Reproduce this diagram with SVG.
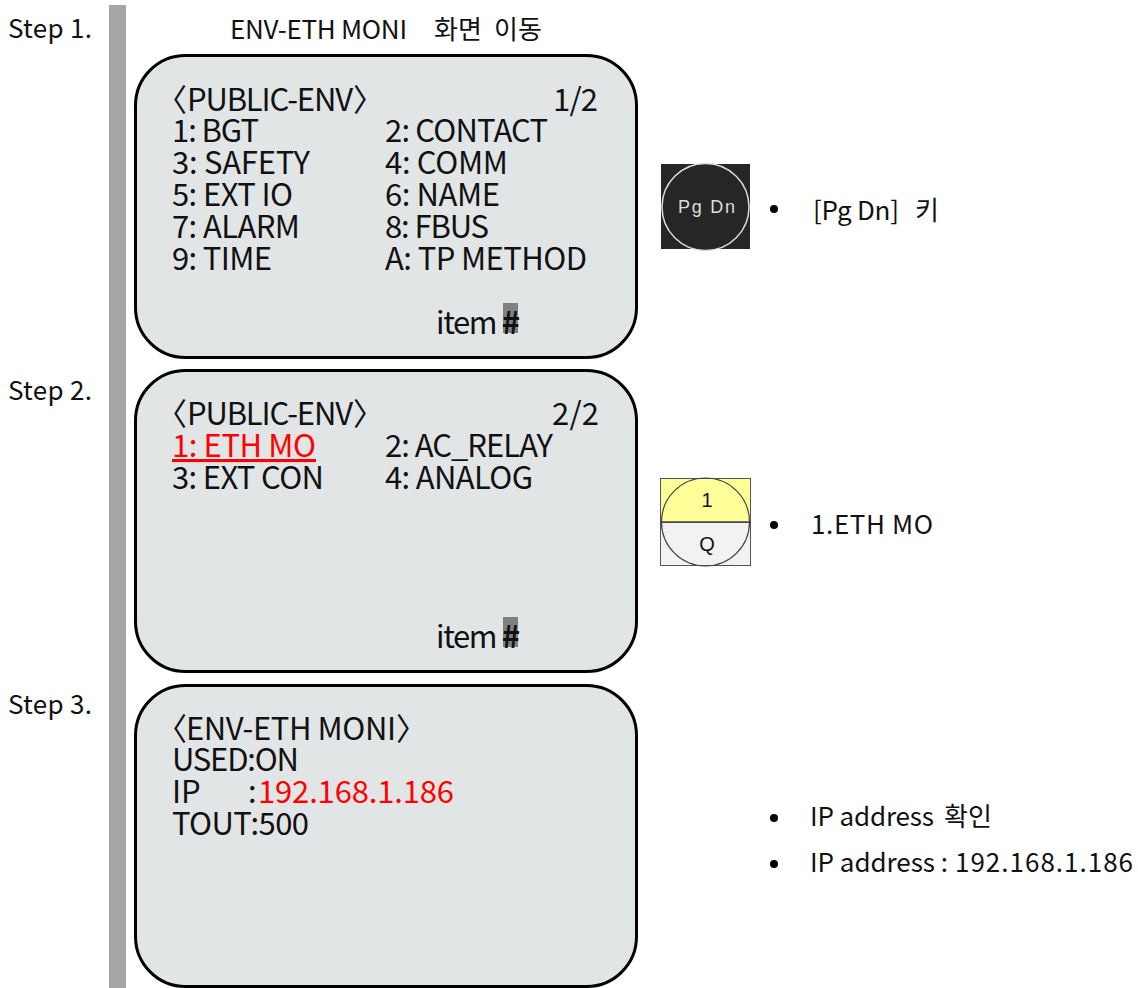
<svg xmlns="http://www.w3.org/2000/svg" width="1138" height="988" viewBox="0 0 1138 988">
<style>
text{font-family:"Noto Sans CJK KR","Noto Sans",sans-serif;fill:#111}
.p{fill:#e2e5e6;stroke:#000;stroke-width:3}
.s{font-size:26px}
.l{font-size:31px}
.n{font-size:26px}
.r{fill:#f00}
.k{font-family:"Liberation Sans",sans-serif}
</style>
<rect width="1138" height="988" fill="#fff"/>
<rect id="sidebar" x="109" y="5" width="17" height="983" fill="#a6a6a6"/>
<g id="steps">
<text class="s" x="8" y="38" textLength="84">Step 1.</text>
<text class="s" x="8" y="400" textLength="84">Step 2.</text>
<text class="s" x="8" y="714" textLength="84">Step 3.</text>
<text class="s" y="39"><tspan x="230" textLength="177">ENV-ETH MONI</tspan><tspan x="434">화면</tspan><tspan x="494">이동</tspan></text>
</g>
<g id="screen1">
<rect class="p" x="135.500" y="55.500" width="501" height="302" rx="50"/>
<text class="l" y="111"><tspan x="156">〈</tspan><tspan x="187" textLength="166">PUBLIC-ENV</tspan><tspan x="353">〉</tspan></text>
<text class="l" x="553" y="111" textLength="45">1/2</text>
<text class="l" x="172" y="142" textLength="87">1: BGT</text><text class="l" x="385" y="142" textLength="163">2: CONTACT</text>
<text class="l" x="172" y="174" textLength="138">3: SAFETY</text><text class="l" x="385" y="174" textLength="123">4: COMM</text>
<text class="l" x="172" y="206" textLength="121">5: EXT IO</text><text class="l" x="385" y="206" textLength="115">6: NAME</text>
<text class="l" x="172" y="238" textLength="128">7: ALARM</text><text class="l" x="385" y="238" textLength="104">8: FBUS</text>
<text class="l" x="172" y="270" textLength="100">9: TIME</text><text class="l" x="385" y="270" textLength="202">A: TP METHOD</text>
<rect x="503" y="303" width="15" height="30" fill="#808080"/>
<text class="l" x="436" y="334" textLength="84">item <tspan font-weight="700">#</tspan></text>
</g>
<g id="screen2">
<rect class="p" x="135.500" y="370.500" width="501" height="301" rx="50"/>
<text class="l" y="425"><tspan x="156">〈</tspan><tspan x="187" textLength="166">PUBLIC-ENV</tspan><tspan x="353">〉</tspan></text>
<text class="l" x="552" y="425" textLength="47">2/2</text>
<text class="l r" x="172" y="457" textLength="144" text-decoration="underline">1: ETH MO</text><text class="l" x="385" y="457" textLength="168">2: AC_RELAY</text>
<text class="l" x="172" y="489" textLength="152">3: EXT CON</text><text class="l" x="385" y="489" textLength="148">4: ANALOG</text>
<rect x="503" y="617" width="15" height="30" fill="#808080"/>
<text class="l" x="436" y="648" textLength="84">item <tspan font-weight="700">#</tspan></text>
</g>
<g id="screen3">
<rect class="p" x="135.500" y="685.500" width="501" height="301" rx="50"/>
<text class="l" y="740"><tspan x="156">〈</tspan><tspan x="186" textLength="210">ENV-ETH MONI</tspan><tspan x="396">〉</tspan></text>
<text class="l" x="172" y="771" textLength="127">USED:ON</text>
<text class="l" y="803"><tspan x="172">IP</tspan><tspan x="248">:</tspan><tspan class="r" x="258" textLength="196">192.168.1.186</tspan></text>
<text class="l" x="172" y="835" textLength="137">TOUT:500</text>
</g>
<g id="key-pgdn">
<rect x="661" y="164" width="89" height="85" fill="#262626"/>
<circle cx="705.500" cy="207" r="43.500" fill="#262626" stroke="#ddd" stroke-width="1.500"/>
<text class="k" x="678" y="213" font-size="18" textLength="57" style="fill:#ddd">Pg Dn</text>
</g>
<g id="key-1q">
<rect x="660.500" y="478.500" width="90" height="44" fill="#ffff99" stroke="#555"/>
<rect x="660.500" y="522.500" width="90" height="43" fill="#f2f2f2" stroke="#555"/>
<circle cx="705.500" cy="522" r="44" fill="none" stroke="#444" stroke-width="1.200"/>
<line x1="660" y1="522" x2="751" y2="522" stroke="#444" stroke-width="1.500"/>
<text class="k" x="707" y="507" text-anchor="middle" font-size="20">1</text>
<text class="k" x="707" y="551" text-anchor="middle" font-size="20">Q</text>
</g>
<g id="notes">
<circle cx="774" cy="209" r="4" fill="#000"/><text class="n" y="220"><tspan x="813" textLength="86">[Pg Dn]</tspan><tspan x="915">키</tspan></text>
<circle cx="774" cy="525" r="4" fill="#000"/><text class="n" x="811" y="534" textLength="122">1.ETH MO</text>
<circle cx="774" cy="818" r="4" fill="#000"/><text class="n" y="826"><tspan x="810" textLength="124">IP address</tspan><tspan x="944">확인</tspan></text>
<circle cx="774" cy="864" r="4" fill="#000"/><text class="n" y="872"><tspan x="810" textLength="138">IP address :</tspan><tspan x="955" textLength="178">192.168.1.186</tspan></text>
</g>
</svg>
